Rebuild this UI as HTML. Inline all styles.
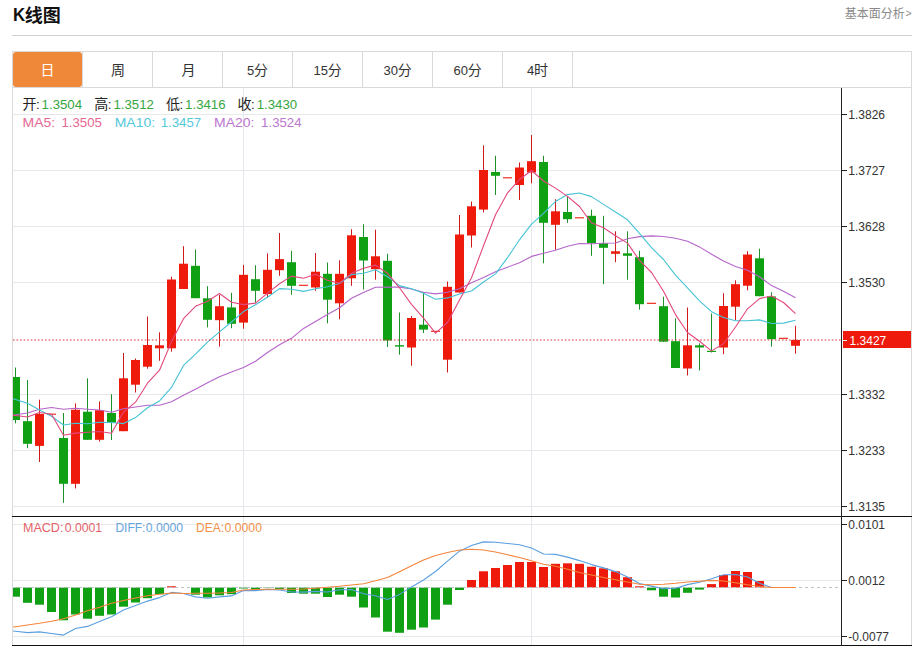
<!DOCTYPE html>
<html lang="zh"><head><meta charset="utf-8"><title>K线图</title>
<style>html,body{margin:0;padding:0;background:#fff;}body{width:918px;height:648px;overflow:hidden;font-family:"Liberation Sans","Noto Sans CJK SC",sans-serif;}svg{display:block}text{font-family:"Liberation Sans","Noto Sans CJK SC",sans-serif;}</style></head><body>
<svg width="918" height="648" viewBox="0 0 918 648">
<rect width="918" height="648" fill="#fff"/>
<text x="13.0" y="20.7" font-size="18.6" fill="#111" text-anchor="start" font-weight="bold" textLength="12.2" lengthAdjust="spacingAndGlyphs" >K</text>
<text x="24.7" y="21.6" font-size="18" fill="#111" text-anchor="start" font-weight="bold">线图</text>
<text x="844.7" y="18.3" font-size="12" fill="#8a8a8a" text-anchor="start">基本面分析</text>
<text x="905.4" y="17.4" font-size="10.5" fill="#8a8a8a" text-anchor="start" >&gt;</text>
<rect x="12" y="35" width="900" height="1" fill="#cfcfcf"/>
<rect x="12" y="51" width="900" height="1" fill="#d9d9d9"/>
<rect x="12" y="87" width="900" height="1" fill="#d9d9d9"/>
<rect x="12" y="51" width="1" height="595" fill="#d9d9d9"/>
<rect x="911" y="51" width="1" height="595" fill="#d9d9d9"/>
<rect x="82" y="52" width="1" height="35" fill="#d9d9d9"/>
<rect x="152" y="52" width="1" height="35" fill="#d9d9d9"/>
<rect x="222" y="52" width="1" height="35" fill="#d9d9d9"/>
<rect x="292" y="52" width="1" height="35" fill="#d9d9d9"/>
<rect x="362" y="52" width="1" height="35" fill="#d9d9d9"/>
<rect x="432" y="52" width="1" height="35" fill="#d9d9d9"/>
<rect x="502" y="52" width="1" height="35" fill="#d9d9d9"/>
<rect x="572" y="52" width="1" height="35" fill="#d9d9d9"/>
<rect x="13" y="52" width="69" height="35" rx="3" ry="3" fill="#f0883a"/>
<text x="40.44" y="74.8" font-size="14" fill="#fff" text-anchor="start">日</text>
<text x="111.11" y="74.8" font-size="14" fill="#333" text-anchor="start">周</text>
<text x="181.55" y="74.8" font-size="14" fill="#333" text-anchor="start">月</text>
<text x="247.09" y="74.6" font-size="13" fill="#333" text-anchor="start" >5</text><text x="254.12" y="74.8" font-size="14" fill="#333" text-anchor="start">分</text>
<text x="313.47" y="74.6" font-size="13" fill="#333" text-anchor="start" >15</text><text x="327.73" y="74.8" font-size="14" fill="#333" text-anchor="start">分</text>
<text x="383.47" y="74.6" font-size="13" fill="#333" text-anchor="start" >30</text><text x="397.73" y="74.8" font-size="14" fill="#333" text-anchor="start">分</text>
<text x="453.47" y="74.6" font-size="13" fill="#333" text-anchor="start" >60</text><text x="467.73" y="74.8" font-size="14" fill="#333" text-anchor="start">分</text>
<text x="527.09" y="74.6" font-size="13" fill="#333" text-anchor="start" >4</text><text x="534.12" y="74.8" font-size="14" fill="#333" text-anchor="start">时</text>
<rect x="13" y="114" width="828" height="1" fill="#e8e8e8"/>
<rect x="13" y="170" width="828" height="1" fill="#e8e8e8"/>
<rect x="13" y="226" width="828" height="1" fill="#e8e8e8"/>
<rect x="13" y="282" width="828" height="1" fill="#e8e8e8"/>
<rect x="13" y="394" width="828" height="1" fill="#e8e8e8"/>
<rect x="13" y="450" width="828" height="1" fill="#e8e8e8"/>
<rect x="13" y="506" width="828" height="1" fill="#e8e8e8"/>
<rect x="13" y="524" width="828" height="1" fill="#e8e8e8"/>
<rect x="13" y="580" width="828" height="1" fill="#e8e8e8"/>
<rect x="13" y="636" width="828" height="1" fill="#e8e8e8"/>
<rect x="243" y="88" width="1" height="557" fill="#e4e7ee"/>
<rect x="531" y="88" width="1" height="557" fill="#e4e7ee"/>
<defs><clipPath id="cp"><rect x="13" y="88" width="828" height="428"/></clipPath><clipPath id="cm"><rect x="13" y="517" width="828" height="128"/></clipPath></defs>
<g clip-path="url(#cp)">
<line x1="15.5" y1="367.5" x2="15.5" y2="423.3" stroke="#1d8f2b" stroke-width="1"/>
<rect x="11.0" y="377" width="9" height="43.0" fill="#10a013"/>
<line x1="27.5" y1="380" x2="27.5" y2="448.2" stroke="#1d8f2b" stroke-width="1"/>
<rect x="23.0" y="421.2" width="9" height="22.6" fill="#10a013"/>
<line x1="39.5" y1="399.7" x2="39.5" y2="462" stroke="#cf1a1c" stroke-width="1"/>
<rect x="35.0" y="414" width="9" height="31.9" fill="#ee1b0c"/>
<line x1="47.0" y1="414.2" x2="56.0" y2="414.2" stroke="#ee1b0c" stroke-width="1.1"/>
<line x1="63.5" y1="413" x2="63.5" y2="502.8" stroke="#1d8f2b" stroke-width="1"/>
<rect x="59.0" y="438" width="9" height="45.8" fill="#10a013"/>
<line x1="75.5" y1="403.3" x2="75.5" y2="488.4" stroke="#cf1a1c" stroke-width="1"/>
<rect x="71.0" y="409.7" width="9" height="74.1" fill="#ee1b0c"/>
<line x1="87.5" y1="378.3" x2="87.5" y2="439.8" stroke="#1d8f2b" stroke-width="1"/>
<rect x="83.0" y="411.7" width="9" height="28.1" fill="#10a013"/>
<line x1="99.5" y1="401.4" x2="99.5" y2="441.5" stroke="#cf1a1c" stroke-width="1"/>
<rect x="95.0" y="410.2" width="9" height="29.6" fill="#ee1b0c"/>
<line x1="111.5" y1="394.2" x2="111.5" y2="440" stroke="#1d8f2b" stroke-width="1"/>
<rect x="107.0" y="413" width="9" height="9.5" fill="#10a013"/>
<line x1="123.5" y1="353" x2="123.5" y2="431.2" stroke="#cf1a1c" stroke-width="1"/>
<rect x="119.0" y="378.3" width="9" height="52.9" fill="#ee1b0c"/>
<line x1="135.5" y1="358.5" x2="135.5" y2="392.5" stroke="#cf1a1c" stroke-width="1"/>
<rect x="131.0" y="360" width="9" height="24.7" fill="#ee1b0c"/>
<line x1="147.5" y1="316.5" x2="147.5" y2="368.7" stroke="#cf1a1c" stroke-width="1"/>
<rect x="143.0" y="345" width="9" height="21.7" fill="#ee1b0c"/>
<line x1="159.5" y1="332.3" x2="159.5" y2="360.8" stroke="#cf1a1c" stroke-width="1"/>
<rect x="155.0" y="345.3" width="9" height="3.0" fill="#ee1b0c"/>
<line x1="171.5" y1="276.7" x2="171.5" y2="351.7" stroke="#cf1a1c" stroke-width="1"/>
<rect x="167.0" y="279.5" width="9" height="68.8" fill="#ee1b0c"/>
<line x1="183.5" y1="246.2" x2="183.5" y2="289" stroke="#cf1a1c" stroke-width="1"/>
<rect x="179.0" y="263.7" width="9" height="25.3" fill="#ee1b0c"/>
<line x1="195.5" y1="249.5" x2="195.5" y2="298.2" stroke="#1d8f2b" stroke-width="1"/>
<rect x="191.0" y="265.8" width="9" height="32.4" fill="#10a013"/>
<line x1="207.5" y1="286.2" x2="207.5" y2="327.4" stroke="#1d8f2b" stroke-width="1"/>
<rect x="203.0" y="298.3" width="9" height="21.5" fill="#10a013"/>
<line x1="219.5" y1="295" x2="219.5" y2="346.7" stroke="#cf1a1c" stroke-width="1"/>
<rect x="215.0" y="306.2" width="9" height="14.0" fill="#ee1b0c"/>
<line x1="231.5" y1="292.8" x2="231.5" y2="328.2" stroke="#1d8f2b" stroke-width="1"/>
<rect x="227.0" y="307.4" width="9" height="16.4" fill="#10a013"/>
<line x1="243.5" y1="265" x2="243.5" y2="328.7" stroke="#cf1a1c" stroke-width="1"/>
<rect x="239.0" y="274.8" width="9" height="47.8" fill="#ee1b0c"/>
<line x1="255.5" y1="265.3" x2="255.5" y2="302.8" stroke="#1d8f2b" stroke-width="1"/>
<rect x="251.0" y="279.2" width="9" height="11.6" fill="#10a013"/>
<line x1="267.5" y1="253.3" x2="267.5" y2="297.8" stroke="#cf1a1c" stroke-width="1"/>
<rect x="263.0" y="269.8" width="9" height="24.2" fill="#ee1b0c"/>
<line x1="279.5" y1="233" x2="279.5" y2="275.8" stroke="#cf1a1c" stroke-width="1"/>
<rect x="275.0" y="259.1" width="9" height="11.1" fill="#ee1b0c"/>
<line x1="291.5" y1="250.8" x2="291.5" y2="294.7" stroke="#1d8f2b" stroke-width="1"/>
<rect x="287.0" y="262.2" width="9" height="23.6" fill="#10a013"/>
<line x1="299.0" y1="285.3" x2="308.0" y2="285.3" stroke="#ee1b0c" stroke-width="1.1"/>
<line x1="315.5" y1="253" x2="315.5" y2="290.8" stroke="#cf1a1c" stroke-width="1"/>
<rect x="311.0" y="271.7" width="9" height="15.8" fill="#ee1b0c"/>
<line x1="327.5" y1="262.5" x2="327.5" y2="323.3" stroke="#1d8f2b" stroke-width="1"/>
<rect x="323.0" y="273.8" width="9" height="25.9" fill="#10a013"/>
<line x1="339.5" y1="260.3" x2="339.5" y2="319.2" stroke="#cf1a1c" stroke-width="1"/>
<rect x="335.0" y="273.8" width="9" height="29.5" fill="#ee1b0c"/>
<line x1="351.5" y1="229.2" x2="351.5" y2="285.8" stroke="#cf1a1c" stroke-width="1"/>
<rect x="347.0" y="235.3" width="9" height="43.0" fill="#ee1b0c"/>
<line x1="363.5" y1="224.2" x2="363.5" y2="289.5" stroke="#1d8f2b" stroke-width="1"/>
<rect x="359.0" y="237" width="9" height="23.5" fill="#10a013"/>
<line x1="375.5" y1="229.7" x2="375.5" y2="279.7" stroke="#cf1a1c" stroke-width="1"/>
<rect x="371.0" y="256.3" width="9" height="12.9" fill="#ee1b0c"/>
<line x1="387.5" y1="253.7" x2="387.5" y2="347" stroke="#1d8f2b" stroke-width="1"/>
<rect x="383.0" y="260.8" width="9" height="79.7" fill="#10a013"/>
<line x1="399.5" y1="312.5" x2="399.5" y2="354.7" stroke="#1d8f2b" stroke-width="1"/>
<rect x="395.0" y="345.2" width="9" height="1.4" fill="#10a013"/>
<line x1="411.5" y1="316" x2="411.5" y2="365.8" stroke="#cf1a1c" stroke-width="1"/>
<rect x="407.0" y="318" width="9" height="29.5" fill="#ee1b0c"/>
<line x1="423.5" y1="292" x2="423.5" y2="333" stroke="#1d8f2b" stroke-width="1"/>
<rect x="419.0" y="324.7" width="9" height="4.9" fill="#10a013"/>
<line x1="431.0" y1="331.3" x2="440.0" y2="331.3" stroke="#ee1b0c" stroke-width="1.1"/>
<line x1="447.5" y1="281.5" x2="447.5" y2="372.5" stroke="#cf1a1c" stroke-width="1"/>
<rect x="443.0" y="286.8" width="9" height="72.9" fill="#ee1b0c"/>
<line x1="459.5" y1="215" x2="459.5" y2="292.5" stroke="#cf1a1c" stroke-width="1"/>
<rect x="455.0" y="234.5" width="9" height="58.0" fill="#ee1b0c"/>
<line x1="471.5" y1="201.5" x2="471.5" y2="247.5" stroke="#cf1a1c" stroke-width="1"/>
<rect x="467.0" y="206.3" width="9" height="29.2" fill="#ee1b0c"/>
<line x1="483.5" y1="145.3" x2="483.5" y2="212.5" stroke="#cf1a1c" stroke-width="1"/>
<rect x="479.0" y="170" width="9" height="39.6" fill="#ee1b0c"/>
<line x1="495.5" y1="155.8" x2="495.5" y2="195" stroke="#1d8f2b" stroke-width="1"/>
<rect x="491.0" y="172" width="9" height="3.8" fill="#10a013"/>
<line x1="503.0" y1="177.8" x2="512.0" y2="177.8" stroke="#ee1b0c" stroke-width="1.1"/>
<line x1="519.5" y1="162.5" x2="519.5" y2="200" stroke="#cf1a1c" stroke-width="1"/>
<rect x="515.0" y="167.5" width="9" height="17.5" fill="#ee1b0c"/>
<line x1="531.5" y1="135" x2="531.5" y2="183.3" stroke="#cf1a1c" stroke-width="1"/>
<rect x="527.0" y="161.2" width="9" height="11.3" fill="#ee1b0c"/>
<line x1="543.5" y1="155.8" x2="543.5" y2="263.3" stroke="#1d8f2b" stroke-width="1"/>
<rect x="539.0" y="162" width="9" height="60.8" fill="#10a013"/>
<line x1="555.5" y1="199.2" x2="555.5" y2="249.8" stroke="#cf1a1c" stroke-width="1"/>
<rect x="551.0" y="211.3" width="9" height="13.5" fill="#ee1b0c"/>
<line x1="567.5" y1="196.3" x2="567.5" y2="222.8" stroke="#1d8f2b" stroke-width="1"/>
<rect x="563.0" y="212" width="9" height="7.2" fill="#10a013"/>
<line x1="575.0" y1="217.8" x2="584.0" y2="217.8" stroke="#ee1b0c" stroke-width="1.1"/>
<line x1="591.5" y1="209.7" x2="591.5" y2="255.8" stroke="#1d8f2b" stroke-width="1"/>
<rect x="587.0" y="215.8" width="9" height="27.2" fill="#10a013"/>
<line x1="603.5" y1="215.8" x2="603.5" y2="284.2" stroke="#1d8f2b" stroke-width="1"/>
<rect x="599.0" y="243.3" width="9" height="4.5" fill="#10a013"/>
<line x1="615.5" y1="231.3" x2="615.5" y2="262.2" stroke="#cf1a1c" stroke-width="1"/>
<rect x="611.0" y="251.3" width="9" height="2.5" fill="#ee1b0c"/>
<line x1="627.5" y1="231.3" x2="627.5" y2="279.7" stroke="#1d8f2b" stroke-width="1"/>
<rect x="623.0" y="253.3" width="9" height="2.5" fill="#10a013"/>
<line x1="639.5" y1="250.8" x2="639.5" y2="309.7" stroke="#1d8f2b" stroke-width="1"/>
<rect x="635.0" y="257.2" width="9" height="47.0" fill="#10a013"/>
<line x1="647.0" y1="303.3" x2="656.0" y2="303.3" stroke="#ee1b0c" stroke-width="1.1"/>
<line x1="663.5" y1="296.7" x2="663.5" y2="341.7" stroke="#1d8f2b" stroke-width="1"/>
<rect x="659.0" y="306.2" width="9" height="35.5" fill="#10a013"/>
<line x1="675.5" y1="318.3" x2="675.5" y2="368" stroke="#1d8f2b" stroke-width="1"/>
<rect x="671.0" y="341.2" width="9" height="26.8" fill="#10a013"/>
<line x1="687.5" y1="307.5" x2="687.5" y2="375.5" stroke="#cf1a1c" stroke-width="1"/>
<rect x="683.0" y="345.3" width="9" height="23.2" fill="#ee1b0c"/>
<line x1="699.5" y1="343.3" x2="699.5" y2="370.5" stroke="#1d8f2b" stroke-width="1"/>
<rect x="695.0" y="345.3" width="9" height="2.2" fill="#10a013"/>
<line x1="711.5" y1="313.5" x2="711.5" y2="352.5" stroke="#1d8f2b" stroke-width="1"/>
<rect x="707.0" y="350.8" width="9" height="1.2" fill="#10a013"/>
<line x1="723.5" y1="293.2" x2="723.5" y2="354.2" stroke="#cf1a1c" stroke-width="1"/>
<rect x="719.0" y="306" width="9" height="41.5" fill="#ee1b0c"/>
<line x1="735.5" y1="280.3" x2="735.5" y2="320" stroke="#cf1a1c" stroke-width="1"/>
<rect x="731.0" y="284.2" width="9" height="22.5" fill="#ee1b0c"/>
<line x1="747.5" y1="251.2" x2="747.5" y2="290.3" stroke="#cf1a1c" stroke-width="1"/>
<rect x="743.0" y="254.5" width="9" height="31.2" fill="#ee1b0c"/>
<line x1="759.5" y1="248.7" x2="759.5" y2="296.2" stroke="#1d8f2b" stroke-width="1"/>
<rect x="755.0" y="258.3" width="9" height="37.9" fill="#10a013"/>
<line x1="771.5" y1="292.2" x2="771.5" y2="346.7" stroke="#1d8f2b" stroke-width="1"/>
<rect x="767.0" y="296.5" width="9" height="42.7" fill="#10a013"/>
<line x1="779.0" y1="338.3" x2="788.0" y2="338.3" stroke="#ee1b0c" stroke-width="1.1"/>
<line x1="795.5" y1="325.8" x2="795.5" y2="353.7" stroke="#cf1a1c" stroke-width="1"/>
<rect x="791.0" y="340" width="9" height="5.8" fill="#ee1b0c"/>
<polyline points="3.5,415.6 15.5,414.8 27.5,413.0 39.5,409.2 51.5,407.5 63.5,409.2 75.5,408.3 87.5,409.2 99.5,410.0 111.5,412.2 123.5,408.7 135.5,407.0 147.5,405.3 159.5,405.3 171.5,401.7 183.5,395.3 195.5,389.2 207.5,382.8 219.5,376.7 231.5,372.0 243.5,367.6 255.5,361.2 267.5,352.5 279.5,344.7 291.5,338.3 303.5,328.4 315.5,321.5 327.5,314.5 339.5,307.7 351.5,298.3 363.5,292.4 375.5,287.2 387.5,287.0 399.5,287.1 411.5,289.0 423.5,292.3 435.5,293.9 447.5,292.3 459.5,288.7 471.5,282.8 483.5,277.6 495.5,271.8 507.5,267.2 519.5,262.7 531.5,256.4 543.5,253.3 555.5,250.3 567.5,246.3 579.5,243.5 591.5,243.8 603.5,243.2 615.5,243.0 627.5,238.7 639.5,236.6 651.5,235.9 663.5,236.5 675.5,238.3 687.5,241.2 699.5,246.9 711.5,254.2 723.5,261.0 735.5,266.4 747.5,270.2 759.5,276.7 771.5,285.6 783.5,291.3 795.5,297.8" fill="none" stroke="#b565c9" stroke-width="1.1" stroke-linejoin="round"/>
<polyline points="3.5,396.5 15.5,399.5 27.5,403.3 39.5,410.0 51.5,416.3 63.5,425.0 75.5,423.3 87.5,423.7 99.5,422.2 111.5,422.5 123.5,423.6 135.5,417.6 147.5,407.8 159.5,400.9 171.5,387.4 183.5,365.4 195.5,354.2 207.5,342.2 219.5,331.9 231.5,322.0 243.5,311.6 255.5,304.7 267.5,297.2 279.5,288.6 291.5,289.2 303.5,291.4 315.5,288.7 327.5,286.7 339.5,283.5 351.5,274.6 363.5,273.2 375.5,269.7 387.5,276.8 399.5,285.6 411.5,288.8 423.5,293.2 435.5,299.2 447.5,297.9 459.5,293.9 471.5,291.0 483.5,282.0 495.5,273.9 507.5,257.7 519.5,239.8 531.5,224.1 543.5,213.4 555.5,201.4 567.5,194.6 579.5,193.0 591.5,196.6 603.5,204.4 615.5,212.0 627.5,219.8 639.5,233.4 651.5,247.7 663.5,259.5 675.5,275.2 687.5,287.8 699.5,300.8 711.5,311.7 723.5,317.5 735.5,320.8 747.5,320.7 759.5,319.9 771.5,323.5 783.5,323.1 795.5,320.3" fill="none" stroke="#45c3d6" stroke-width="1.1" stroke-linejoin="round"/>
<polyline points="3.5,415.0 15.5,415.5 27.5,417.0 39.5,412.5 51.5,414.2 63.5,435.2 75.5,433.1 87.5,432.3 99.5,431.5 111.5,433.2 123.5,412.1 135.5,402.2 147.5,383.2 159.5,370.2 171.5,341.6 183.5,318.7 195.5,306.3 207.5,301.3 219.5,293.5 231.5,302.3 243.5,304.6 255.5,303.1 267.5,293.1 279.5,283.7 291.5,276.1 303.5,278.2 315.5,274.3 327.5,280.3 339.5,283.3 351.5,273.2 363.5,268.2 375.5,265.1 387.5,273.3 399.5,287.8 411.5,304.4 423.5,318.2 435.5,333.2 447.5,322.5 459.5,300.0 471.5,277.7 483.5,245.8 495.5,214.7 507.5,192.9 519.5,179.5 531.5,170.5 543.5,181.0 555.5,188.1 567.5,196.4 579.5,206.5 591.5,222.8 603.5,227.8 615.5,235.8 627.5,243.1 639.5,260.4 651.5,272.5 663.5,291.3 675.5,314.6 687.5,332.5 699.5,341.2 711.5,350.9 723.5,343.8 735.5,327.0 747.5,308.8 759.5,298.6 771.5,296.0 783.5,302.5 795.5,313.6" fill="none" stroke="#e2487e" stroke-width="1.1" stroke-linejoin="round"/>
</g>
<line x1="13" y1="340" x2="841" y2="340" stroke="#d8303c" stroke-width="1" stroke-dasharray="1.6 1.96"/>
<g clip-path="url(#cm)">
<rect x="11.0" y="587.5" width="9" height="9.2" fill="#10a013"/>
<rect x="23.0" y="587.5" width="9" height="15.3" fill="#10a013"/>
<rect x="35.0" y="587.5" width="9" height="17.2" fill="#10a013"/>
<rect x="47.0" y="587.5" width="9" height="24.5" fill="#10a013"/>
<rect x="59.0" y="587.5" width="9" height="32.8" fill="#10a013"/>
<rect x="71.0" y="587.5" width="9" height="27.0" fill="#10a013"/>
<rect x="83.0" y="587.5" width="9" height="31.2" fill="#10a013"/>
<rect x="95.0" y="587.5" width="9" height="28.3" fill="#10a013"/>
<rect x="107.0" y="587.5" width="9" height="27.0" fill="#10a013"/>
<rect x="119.0" y="587.5" width="9" height="19.2" fill="#10a013"/>
<rect x="131.0" y="587.5" width="9" height="15.0" fill="#10a013"/>
<rect x="143.0" y="587.5" width="9" height="10.7" fill="#10a013"/>
<rect x="155.0" y="587.5" width="9" height="6.7" fill="#10a013"/>
<rect x="167.0" y="586.3" width="9" height="1.2" fill="#ee1b0c"/>
<rect x="191.0" y="587.5" width="9" height="7.2" fill="#10a013"/>
<rect x="203.0" y="587.5" width="9" height="10.0" fill="#10a013"/>
<rect x="215.0" y="587.5" width="9" height="7.8" fill="#10a013"/>
<rect x="227.0" y="587.5" width="9" height="6.7" fill="#10a013"/>
<rect x="239.0" y="587.5" width="9" height="1.0" fill="#10a013"/>
<rect x="251.0" y="587.5" width="9" height="2.2" fill="#10a013"/>
<rect x="263.0" y="587.5" width="9" height="0.4" fill="#10a013"/>
<rect x="275.0" y="587.5" width="9" height="1.5" fill="#10a013"/>
<rect x="287.0" y="587.5" width="9" height="5.5" fill="#10a013"/>
<rect x="299.0" y="587.5" width="9" height="6.2" fill="#10a013"/>
<rect x="311.0" y="587.5" width="9" height="6.2" fill="#10a013"/>
<rect x="323.0" y="587.5" width="9" height="9.5" fill="#10a013"/>
<rect x="335.0" y="587.5" width="9" height="7.2" fill="#10a013"/>
<rect x="347.0" y="587.5" width="9" height="9.2" fill="#10a013"/>
<rect x="359.0" y="587.5" width="9" height="20.0" fill="#10a013"/>
<rect x="371.0" y="587.5" width="9" height="30.0" fill="#10a013"/>
<rect x="383.0" y="587.5" width="9" height="44.2" fill="#10a013"/>
<rect x="395.0" y="587.5" width="9" height="45.3" fill="#10a013"/>
<rect x="407.0" y="587.5" width="9" height="42.2" fill="#10a013"/>
<rect x="419.0" y="587.5" width="9" height="40.0" fill="#10a013"/>
<rect x="431.0" y="587.5" width="9" height="32.1" fill="#10a013"/>
<rect x="443.0" y="587.5" width="9" height="17.2" fill="#10a013"/>
<rect x="455.0" y="587.5" width="9" height="2.5" fill="#10a013"/>
<rect x="467.0" y="580" width="9" height="7.5" fill="#ee1b0c"/>
<rect x="479.0" y="571.3" width="9" height="16.2" fill="#ee1b0c"/>
<rect x="491.0" y="568" width="9" height="19.5" fill="#ee1b0c"/>
<rect x="503.0" y="565" width="9" height="22.5" fill="#ee1b0c"/>
<rect x="515.0" y="562" width="9" height="25.5" fill="#ee1b0c"/>
<rect x="527.0" y="562" width="9" height="25.5" fill="#ee1b0c"/>
<rect x="539.0" y="567" width="9" height="20.5" fill="#ee1b0c"/>
<rect x="551.0" y="563.8" width="9" height="23.7" fill="#ee1b0c"/>
<rect x="563.0" y="563.3" width="9" height="24.2" fill="#ee1b0c"/>
<rect x="575.0" y="563.8" width="9" height="23.7" fill="#ee1b0c"/>
<rect x="587.0" y="566.7" width="9" height="20.8" fill="#ee1b0c"/>
<rect x="599.0" y="568.3" width="9" height="19.2" fill="#ee1b0c"/>
<rect x="611.0" y="571.3" width="9" height="16.2" fill="#ee1b0c"/>
<rect x="623.0" y="577.2" width="9" height="10.3" fill="#ee1b0c"/>
<rect x="635.0" y="586.3" width="9" height="1.2" fill="#ee1b0c"/>
<rect x="647.0" y="587.5" width="9" height="2.8" fill="#10a013"/>
<rect x="659.0" y="587.5" width="9" height="9.2" fill="#10a013"/>
<rect x="671.0" y="587.5" width="9" height="10.0" fill="#10a013"/>
<rect x="683.0" y="587.5" width="9" height="5.3" fill="#10a013"/>
<rect x="695.0" y="587.5" width="9" height="2.1" fill="#10a013"/>
<rect x="707.0" y="584.1" width="9" height="3.4" fill="#ee1b0c"/>
<rect x="719.0" y="575" width="9" height="12.5" fill="#ee1b0c"/>
<rect x="731.0" y="571" width="9" height="16.5" fill="#ee1b0c"/>
<rect x="743.0" y="572" width="9" height="15.5" fill="#ee1b0c"/>
<rect x="755.0" y="581" width="9" height="6.5" fill="#ee1b0c"/>
<line x1="13" y1="587.5" x2="841" y2="587.5" stroke="#b9c3cc" stroke-width="1" stroke-dasharray="3 3"/>
<polyline points="3.5,629.8 15.5,631.3 27.5,632.6 39.5,631.9 51.5,633.5 63.5,635.1 75.5,628.5 87.5,626.4 99.5,621.4 111.5,616.8 123.5,610.1 135.5,605.5 147.5,601.1 159.5,597.6 171.5,592.4 183.5,593.5 195.5,596.9 207.5,598.3 219.5,596.9 231.5,595.9 243.5,590.5 255.5,590.6 267.5,589.4 279.5,590.0 291.5,592.0 303.5,592.1 315.5,591.4 327.5,592.0 339.5,589.8 351.5,589.6 363.5,593.7 375.5,595.8 387.5,599.6 399.5,594.4 411.5,586.9 423.5,580.0 435.5,571.5 447.5,561.1 459.5,551.2 471.5,545.5 483.5,541.9 495.5,542.2 507.5,543.5 519.5,544.8 531.5,548.0 543.5,554.0 555.5,554.4 567.5,557.1 579.5,560.6 591.5,564.6 603.5,567.9 615.5,571.6 627.5,576.9 639.5,583.6 651.5,586.1 663.5,588.8 675.5,588.3 687.5,584.6 699.5,582.2 711.5,578.7 723.5,574.8 735.5,574.5 747.5,577.0 759.5,583.2 771.5,587.5 783.5,587.5 795.5,587.5" fill="none" stroke="#5b9fe0" stroke-width="1.1" stroke-linejoin="round"/>
<polyline points="3.5,628.2 15.5,626.7 27.5,625.0 39.5,623.3 51.5,621.3 63.5,618.7 75.5,615.0 87.5,610.8 99.5,607.2 111.5,603.3 123.5,600.5 135.5,598.0 147.5,595.8 159.5,594.2 171.5,593.0 183.5,593.5 195.5,593.3 207.5,593.3 219.5,593.0 231.5,592.5 243.5,590.0 255.5,589.5 267.5,589.2 279.5,589.2 291.5,589.2 303.5,589.0 315.5,588.3 327.5,587.2 339.5,586.2 351.5,585.0 363.5,583.7 375.5,580.8 387.5,577.5 399.5,571.7 411.5,565.8 423.5,560.0 435.5,555.5 447.5,552.5 459.5,550.0 471.5,549.2 483.5,550.0 495.5,552.0 507.5,554.7 519.5,557.5 531.5,560.8 543.5,564.2 555.5,566.3 567.5,569.2 579.5,572.5 591.5,575.0 603.5,577.5 615.5,579.7 627.5,582.0 639.5,584.2 651.5,584.7 663.5,584.2 675.5,583.3 687.5,582.0 699.5,581.2 711.5,580.4 723.5,581.0 735.5,582.7 747.5,584.8 759.5,586.5 771.5,587.5 783.5,587.5 795.5,587.5" fill="none" stroke="#f5843a" stroke-width="1.1" stroke-linejoin="round"/>
</g>
<rect x="12" y="516" width="900" height="1" fill="#111"/>
<rect x="12" y="645" width="900" height="1" fill="#111"/>
<rect x="841" y="88" width="1" height="558" fill="#222"/>
<rect x="842" y="114" width="5" height="1" fill="#222"/>
<text x="848.3" y="118.8" font-size="12" fill="#333" text-anchor="start" >1.3826</text>
<rect x="842" y="170" width="5" height="1" fill="#222"/>
<text x="848.3" y="174.8" font-size="12" fill="#333" text-anchor="start" >1.3727</text>
<rect x="842" y="226" width="5" height="1" fill="#222"/>
<text x="848.3" y="230.8" font-size="12" fill="#333" text-anchor="start" >1.3628</text>
<rect x="842" y="282" width="5" height="1" fill="#222"/>
<text x="848.3" y="286.8" font-size="12" fill="#333" text-anchor="start" >1.3530</text>
<rect x="842" y="394" width="5" height="1" fill="#222"/>
<text x="848.3" y="398.8" font-size="12" fill="#333" text-anchor="start" >1.3332</text>
<rect x="842" y="450" width="5" height="1" fill="#222"/>
<text x="848.3" y="454.8" font-size="12" fill="#333" text-anchor="start" >1.3233</text>
<rect x="842" y="506" width="5" height="1" fill="#222"/>
<text x="848.3" y="510.8" font-size="12" fill="#333" text-anchor="start" >1.3135</text>
<rect x="842" y="524" width="5" height="1" fill="#222"/>
<text x="848.3" y="528.8" font-size="12" fill="#333" text-anchor="start" >0.0101</text>
<rect x="842" y="580" width="5" height="1" fill="#222"/>
<text x="848.3" y="584.8" font-size="12" fill="#333" text-anchor="start" >0.0012</text>
<rect x="842" y="636" width="5" height="1" fill="#222"/>
<text x="848.3" y="640.8" font-size="12" fill="#333" text-anchor="start" >-0.0077</text>
<rect x="843" y="331" width="68" height="17" fill="#ee1b0c"/>
<rect x="843" y="340" width="4" height="1" fill="#fff"/>
<text x="849.6" y="344.8" font-size="12" fill="#fff" text-anchor="start" >1.3427</text>
<text x="22.5" y="108.5" font-size="14" fill="#222" text-anchor="start">开</text><text x="36.0" y="108.7" font-size="13.4" fill="#222" text-anchor="start" >:</text><text x="41.6" y="108.8" font-size="13.4" fill="#36a63f" text-anchor="start" textLength="40.5" lengthAdjust="spacingAndGlyphs" >1.3504</text>
<text x="94.3" y="108.5" font-size="14" fill="#222" text-anchor="start">高</text><text x="107.8" y="108.7" font-size="13.4" fill="#222" text-anchor="start" >:</text><text x="113.4" y="108.8" font-size="13.4" fill="#36a63f" text-anchor="start" textLength="40.5" lengthAdjust="spacingAndGlyphs" >1.3512</text>
<text x="166.0" y="108.5" font-size="14" fill="#222" text-anchor="start">低</text><text x="179.5" y="108.7" font-size="13.4" fill="#222" text-anchor="start" >:</text><text x="185.1" y="108.8" font-size="13.4" fill="#36a63f" text-anchor="start" textLength="40.5" lengthAdjust="spacingAndGlyphs" >1.3416</text>
<text x="237.6" y="108.5" font-size="14" fill="#222" text-anchor="start">收</text><text x="251.10000000000002" y="108.7" font-size="13.4" fill="#222" text-anchor="start" >:</text><text x="256.7" y="108.8" font-size="13.4" fill="#36a63f" text-anchor="start" textLength="40.5" lengthAdjust="spacingAndGlyphs" >1.3430</text>
<text x="22.6" y="126.8" font-size="13.5" fill="#e56794" text-anchor="start" textLength="32.6" lengthAdjust="spacingAndGlyphs" >MA5:</text>
<text x="61.4" y="126.8" font-size="13.5" fill="#e56794" text-anchor="start" textLength="40.5" lengthAdjust="spacingAndGlyphs" >1.3505</text>
<text x="114.7" y="126.8" font-size="13.5" fill="#55c8da" text-anchor="start" textLength="40.4" lengthAdjust="spacingAndGlyphs" >MA10:</text>
<text x="160.7" y="126.8" font-size="13.5" fill="#55c8da" text-anchor="start" textLength="40.5" lengthAdjust="spacingAndGlyphs" >1.3457</text>
<text x="214.1" y="126.8" font-size="13.5" fill="#bc76ce" text-anchor="start" textLength="40.4" lengthAdjust="spacingAndGlyphs" >MA20:</text>
<text x="261.1" y="126.8" font-size="13.5" fill="#bc76ce" text-anchor="start" textLength="40.5" lengthAdjust="spacingAndGlyphs" >1.3524</text>
<text x="23.0" y="531.6" font-size="12" fill="#e3626a" text-anchor="start" textLength="40.4" lengthAdjust="spacingAndGlyphs" >MACD:</text>
<text x="64.7" y="531.6" font-size="12" fill="#e3626a" text-anchor="start" textLength="37.5" lengthAdjust="spacingAndGlyphs" >0.0001</text>
<text x="115.4" y="531.6" font-size="12" fill="#68a4dc" text-anchor="start" >DIFF:</text>
<text x="145.7" y="531.6" font-size="12" fill="#68a4dc" text-anchor="start" textLength="37.5" lengthAdjust="spacingAndGlyphs" >0.0000</text>
<text x="196.0" y="531.6" font-size="12" fill="#f2914c" text-anchor="start" >DEA:</text>
<text x="224.5" y="531.6" font-size="12" fill="#f2914c" text-anchor="start" textLength="37.5" lengthAdjust="spacingAndGlyphs" >0.0000</text>
</svg></body></html>
